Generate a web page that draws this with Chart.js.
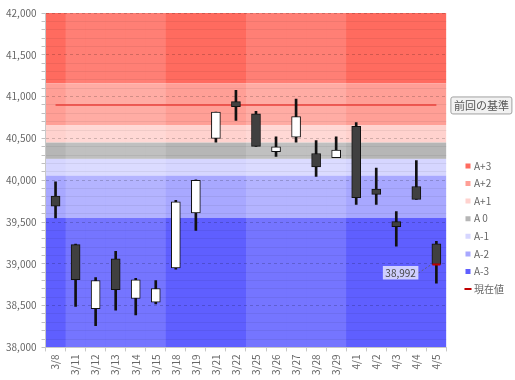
<!DOCTYPE html>
<html lang="ja">
<head>
<meta charset="utf-8">
<script src="https://cdn.jsdelivr.net/npm/chart.js@4.4.1/dist/chart.umd.min.js"></script>
<style>
  html, body { margin: 0; padding: 0; background: #fff; }
  #wrap { width: 515px; height: 380px; }
</style>
</head>
<body>
<div id="wrap"><canvas id="chart"></canvas></div>
<script>
// 日付
const dates = ["3/8", "3/11", "3/12", "3/13", "3/14", "3/15", "3/18", "3/19", "3/21", "3/22",
               "3/25", "3/26", "3/27", "3/28", "3/29", "4/1", "4/2", "4/3", "4/4", "4/5"];

// 四本値
const opens  = [39810, 39230, 38465, 39060, 38585, 38540, 38950, 39610, 40500, 40940,
                40795, 40340, 40515, 40320, 40270, 40645, 39895, 39505, 39925, 39240];
const highs  = [39980, 39235, 38835, 39150, 38825, 38800, 39760, 40005, 40815, 41075,
                40825, 40520, 40970, 40475, 40520, 40690, 40145, 39625, 40235, 39270];
const lows   = [39550, 38490, 38260, 38445, 38390, 38520, 38935, 39400, 40455, 40715,
                40405, 40285, 40455, 40045, 40270, 39710, 39710, 39210, 39770, 38770];
const closes = [39690, 38810, 38800, 38690, 38810, 38705, 39740, 40000, 40815, 40880,
                40405, 40400, 40760, 40160, 40360, 39790, 39830, 39445, 39770, 38992];

// 基準バンド
const bandNames  = ["A+3", "A+2", "A+1", "A 0", "A-1", "A-2", "A-3"];
const bandBounds = [42000, 41160, 40660, 40450, 40255, 40055, 39550, 38000];
const bandColors = ["#ff6b5f", "#ff9f96", "#ffd2ce", "#b6b6b6", "#d6d6ff", "#a8a8ff", "#5f5fff"];

const prevBase = 40900;      // 前回の基準
const currentValue = 38992;  // 現在値
const yTicks = { min: 38000, max: 42000, major: 500, minor: 100 };

const weekday = d => {
    const [m, dd] = d.split("/").map(Number);
    return new Date(2024, m - 1, dd).getDay();
};

/* ================================
      背景のバンドと週の縞
================================ */
const bandPlugin = {
    id: "bands",
    beforeDraw(chart) {
        const { ctx, chartArea: a, scales: { x, y } } = chart;
        ctx.save();
        ctx.beginPath();
        ctx.rect(a.left, a.top, a.width, a.height);
        ctx.clip();
        bandNames.forEach((n, i) => {
            const top = y.getPixelForValue(bandBounds[i]);
            const bottom = y.getPixelForValue(bandBounds[i + 1]);
            ctx.fillStyle = bandColors[i];
            ctx.fillRect(a.left, top, a.width, bottom - top);
        });
        let week = 0;
        dates.forEach((d, i) => {
            if (i > 0 && weekday(d) < weekday(dates[i - 1])) week++;
            if (week % 2 === 1) {
                const l = x.getPixelForValue(i - 0.5);
                const r = x.getPixelForValue(i + 0.5);
                ctx.fillStyle = "rgba(255,255,255,0.14)";
                ctx.fillRect(l, a.top, r - l, a.height);
            }
        });
        ctx.restore();
    },
    beforeDatasetsDraw(chart) {
        // 前回の基準ライン
        const { ctx, scales: { x, y } } = chart;
        const py = y.getPixelForValue(prevBase);
        ctx.save();
        ctx.strokeStyle = "#e8403a";
        ctx.lineWidth = 1.5;
        ctx.beginPath();
        ctx.moveTo(x.getPixelForValue(0), py);
        ctx.lineTo(x.getPixelForValue(dates.length - 1), py);
        ctx.stroke();
        ctx.restore();
    },
    afterDraw(chart) {
        const { ctx, chartArea: a, scales: { x, y } } = chart;
        ctx.save();
        ctx.font = "11px 'Noto Sans CJK JP', sans-serif";
        ctx.textBaseline = "middle";

        // 前回の基準 ラベル
        const py = y.getPixelForValue(prevBase);
        const label = "前回の基準";
        const w = ctx.measureText(label).width + 6;
        const bx = a.right + 4, by = py - 8.5;
        ctx.fillStyle = "#f2f2f2";
        ctx.strokeStyle = "#a0a0a0";
        ctx.lineWidth = 1;
        ctx.beginPath();
        ctx.roundRect(bx + 0.5, by + 0.5, w, 17, 2);
        ctx.fill();
        ctx.stroke();
        ctx.fillStyle = "#555";
        ctx.fillText(label, bx + 3.5, py + 0.5);

        // 現在値 ラベル
        ctx.font = "10px 'Noto Sans CJK JP', sans-serif";
        const cx = x.getPixelForValue(dates.length - 1);
        const cy = y.getPixelForValue(currentValue);
        const txt = currentValue.toLocaleString("en-US");
        const tw = ctx.measureText(txt).width + 5;
        const tx = cx - 18 - tw, ty = cy + 1.5;
        ctx.setLineDash([2, 2]);
        ctx.strokeStyle = "rgba(90,90,90,0.8)";
        ctx.beginPath();
        ctx.moveTo(tx + tw, ty + 7);
        ctx.lineTo(cx - 5, cy);
        ctx.stroke();
        ctx.setLineDash([]);
        ctx.fillStyle = "rgba(255,255,255,0.7)";
        ctx.fillRect(tx, ty, tw, 13.5);
        ctx.fillStyle = "#444";
        ctx.fillText(txt, tx + 2.5, ty + 7.2);
        ctx.restore();
    }
};

/* ================================
      チャート
================================ */
Chart.defaults.font.family = "'Noto Sans CJK JP', 'Noto Sans', sans-serif";
Chart.defaults.font.size = 10;
Chart.defaults.color = "#666";

const isMajor = c => c.tick && c.tick.value % yTicks.major === 0;

new Chart(document.getElementById("chart"), {
    type: "bar",
    data: {
        labels: dates,
        datasets: [
            {
                label: "現在値",
                type: "line",
                data: [{ x: dates[dates.length - 1], y: currentValue }],
                showLine: false,
                pointStyle: "line",
                pointRadius: 4,
                borderColor: "#c00000",
                borderWidth: 2,
                order: 0
            },
            {
                label: "body",
                data: dates.map((d, i) => [opens[i], closes[i]]),
                backgroundColor: dates.map((d, i) => closes[i] >= opens[i] ? "#ffffff" : "#404040"),
                borderColor: "#111",
                borderWidth: 1,
                borderSkipped: false,
                barThickness: 9,
                grouped: false,
                order: 1
            },
            {
                label: "wick",
                data: dates.map((d, i) => [lows[i], highs[i]]),
                backgroundColor: "#111",
                barThickness: 2,
                grouped: false,
                order: 2
            }
        ]
    },
    options: {
        responsive: true,
        maintainAspectRatio: false,
        animation: false,
        devicePixelRatio: 1,
        layout: { padding: { top: 13, right: 1, bottom: 2, left: 1 } },
        plugins: {
            tooltip: { enabled: false },
            legend: {
                position: "right",
                onClick: () => {},
                title: { display: true, text: "", font: { size: 10 }, padding: { top: 0, bottom: 52 } },
                labels: {
                    usePointStyle: true,
                    boxWidth: 2,
                    boxHeight: 5,
                    padding: 7.6,
                    color: "#444",
                    font: { size: 10 },
                    generateLabels: () => [
                        ...bandNames.map((n, i) => ({
                            text: n, fillStyle: bandColors[i], strokeStyle: bandColors[i],
                            lineWidth: 0, pointStyle: "rect", hidden: false
                        })),
                        { text: "現在値", fillStyle: "#c00000", strokeStyle: "#c00000",
                          lineWidth: 2, pointStyle: "line", hidden: false }
                    ]
                }
            }
        },
        scales: {
            x: {
                offset: true,
                grid: { offset: true, drawOnChartArea: false, tickLength: 4, tickColor: "#c8c8c8" },
                border: { color: "#c8c8c8" },
                ticks: { minRotation: 90, maxRotation: 90, padding: 3, autoSkip: false, color: "#666" }
            },
            y: {
                min: yTicks.min,
                max: yTicks.max,
                grid: {
                    color: c => isMajor(c) ? "rgba(0,0,0,0.18)" : "rgba(0,0,0,0.06)",
                    tickColor: "#c0c0c0",
                    tickLength: 4
                },
                border: { color: "#c8c8c8", dash: c => isMajor(c) ? [3, 3] : [] },
                ticks: {
                    stepSize: yTicks.minor,
                    autoSkip: false,
                    padding: 5,
                    color: "#666",
                    callback: v => v % yTicks.major === 0 ? v.toLocaleString("en-US") : ""
                }
            },
            gap: {
                type: "linear",
                position: "right",
                display: true,
                grid: { display: false },
                border: { display: false },
                ticks: { display: false },
                afterFit: s => { s.width = 13; }
            }
        }
    },
    plugins: [bandPlugin]
});
</script>
</body>
</html>
